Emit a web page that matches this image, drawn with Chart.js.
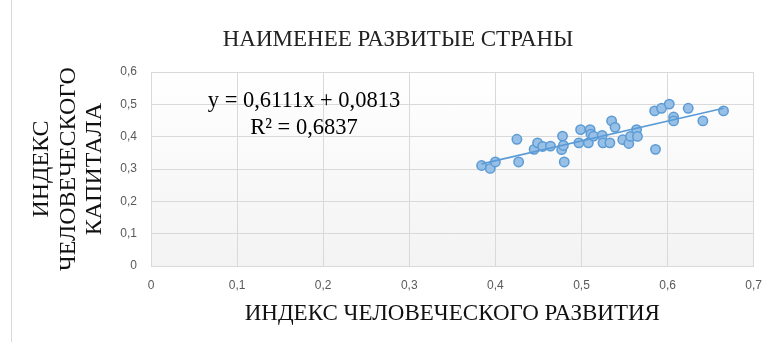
<!DOCTYPE html>
<html>
<head>
<meta charset="utf-8">
<script src="https://cdn.jsdelivr.net/npm/chart.js@4/dist/chart.umd.min.js"></script>
<style>
  html, body { margin: 0; padding: 0; background: #fff; }
  #wrap { width: 774px; height: 342px; position: relative; }
</style>
</head>
<body>
<div id="wrap"><canvas id="scatterChart" width="774" height="342"></canvas></div>
<script>
// индекс человеческого развития (x) и индекс человеческого капитала (y)
const hdiValues = [0.384, 0.394, 0.400, 0.425, 0.427, 0.445, 0.449, 0.455, 0.464, 0.477,
                   0.478, 0.479, 0.480, 0.497, 0.499, 0.508, 0.510, 0.511, 0.514, 0.524,
                   0.525, 0.533, 0.535, 0.539, 0.548, 0.555, 0.557, 0.564, 0.565, 0.585,
                   0.586, 0.593, 0.602, 0.607, 0.607, 0.624, 0.641, 0.665];
const hciValues = [0.311, 0.302, 0.322, 0.392, 0.322, 0.361, 0.381, 0.370, 0.371, 0.360,
                   0.402, 0.373, 0.322, 0.381, 0.422, 0.381, 0.422, 0.408, 0.402, 0.404,
                   0.381, 0.381, 0.449, 0.429, 0.391, 0.379, 0.401, 0.422, 0.401, 0.480,
                   0.361, 0.488, 0.501, 0.461, 0.449, 0.488, 0.449, 0.480];

// linear trendline ends
const trendX = [0.384, 0.665];
const trendY = [0.316, 0.488];

const equationLines = ['y = 0,6111x + 0,0813', 'R² = 0,6837'];

const xTicks = [0, 0.1, 0.2, 0.3, 0.4, 0.5, 0.6, 0.7];
const yTicks = [0, 0.1, 0.2, 0.3, 0.4, 0.5, 0.6];

let points = hdiValues.map((v, i) => ({ x: v, y: hciValues[i] }));
let trendPoints = trendX.map((v, i) => ({ x: v, y: trendY[i] }));

function fmt(v) {
    return v === 0 ? '0' : v.toFixed(1).replace('.', ',');
}

const serif = '"Liberation Serif", "Times New Roman", serif';
const sans = '"Liberation Sans", sans-serif';

// plot area background, outer frame line, trendline label
const backdrop = {
    id: 'backdrop',
    beforeDraw(chart) {
        const { ctx, chartArea: a } = chart;
        ctx.save();
        let g = ctx.createLinearGradient(0, a.top, 0, a.bottom);
        g.addColorStop(0, '#ffffff');
        g.addColorStop(1, '#f3f3f3');
        ctx.fillStyle = g;
        ctx.fillRect(a.left, a.top, a.right - a.left, a.bottom - a.top);
        ctx.strokeStyle = '#d9d9d9';
        ctx.lineWidth = 1;
        ctx.beginPath();
        ctx.moveTo(11.5, 0);
        ctx.lineTo(11.5, 342);
        ctx.stroke();
        ctx.restore();
    },
    afterDatasetsDraw(chart) {
        const { ctx } = chart;
        ctx.save();
        ctx.font = '22.5px ' + serif;
        ctx.fillStyle = '#000';
        ctx.textBaseline = 'middle';
        ctx.textAlign = 'center';
        ctx.fillText(equationLines[0], 304, 101);
        ctx.fillText(equationLines[1], 304, 128);
        ctx.restore();
    }
};

new Chart('scatterChart', {
    type: 'scatter',
    data: {
        datasets: [{
            data: points,
            backgroundColor: '#98bfe6',
            borderColor: '#5b9bd5',
            borderWidth: 1.5,
            pointRadius: 4.7,
            order: 2
        }, {
            type: 'line',
            data: trendPoints,
            borderColor: '#5b9bd5',
            borderWidth: 1.6,
            pointRadius: 0,
            fill: false,
            order: 1
        }]
    },
    options: {
        responsive: false,
        animation: false,
        layout: { padding: { left: 38, right: 16, top: 16, bottom: 0 } },
        plugins: {
            legend: { display: false },
            tooltip: { enabled: false },
            title: {
                display: true,
                text: 'НАИМЕНЕЕ РАЗВИТЫЕ СТРАНЫ',
                color: '#222',
                font: { family: serif, size: 23, weight: 'normal', lineHeight: 1.2 },
                padding: { top: 10.5, bottom: 18 }
            }
        },
        scales: {
            x: {
                type: 'linear',
                min: 0,
                max: 0.7,
                afterBuildTicks: (axis) => { axis.ticks = xTicks.map(v => ({ value: v })); },
                afterFit: (axis) => { axis.height = 76; },
                grid: { color: '#d9d9d9', drawTicks: false },
                border: { color: '#d9d9d9' },
                ticks: {
                    padding: 12,
                    color: '#595959',
                    font: { family: sans, size: 12 },
                    callback: (v) => fmt(v)
                },
                title: {
                    display: true,
                    text: 'ИНДЕКС ЧЕЛОВЕЧЕСКОГО РАЗВИТИЯ',
                    color: '#111',
                    font: { family: serif, size: 23, lineHeight: 1.2 },
                    padding: { top: 0, bottom: 14 }
                }
            },
            y: {
                type: 'linear',
                min: 0,
                max: 0.6,
                afterBuildTicks: (axis) => { axis.ticks = yTicks.map(v => ({ value: v })); },
                afterFit: (axis) => { axis.width = 113; },
                grid: { color: '#d9d9d9', drawTicks: false },
                border: { color: '#d9d9d9' },
                ticks: {
                    padding: 14,
                    color: '#595959',
                    font: { family: sans, size: 12 },
                    callback: (v) => fmt(v)
                },
                title: {
                    display: true,
                    text: ['ИНДЕКС', 'ЧЕЛОВЕЧЕСКОГО', 'КАПИТАЛА'],
                    color: '#111',
                    font: { family: serif, size: 24, lineHeight: 1.11 },
                    padding: { top: -9.6, bottom: 0 }
                }
            }
        }
    },
    plugins: [backdrop]
});
</script>
</body>
</html>
